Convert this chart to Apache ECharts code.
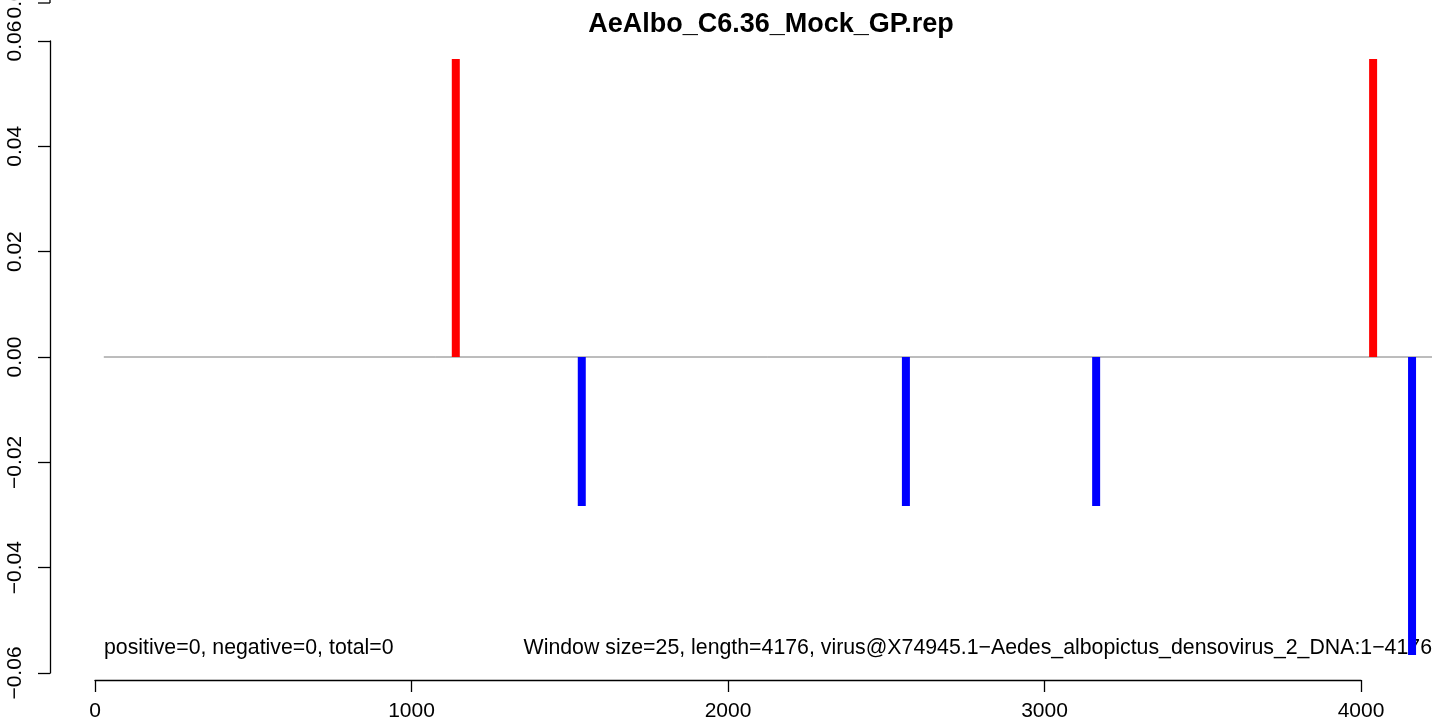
<!DOCTYPE html>
<html>
<head>
<meta charset="utf-8">
<script src="https://cdn.jsdelivr.net/npm/echarts@6/dist/echarts.min.js"></script>
<style>
html,body{margin:0;padding:0;background:#fff;}
#c{width:1441px;height:725px;}
</style>
</head>
<body>
<div id="c"></div>
<script>
// ---- data ----
const titleText = "AeAlbo_C6.36_Mock_GP.rep";
const positions = [1140, 1538, 2562, 3163, 4038, 4161];
const values = [0.0566, -0.0283, -0.0283, -0.0283, 0.0566, -0.0566];
const baselineX = [28, 4224];
const leftNote = "positive=0, negative=0, total=0";
const rightNote = "Window size=25, length=4176, virus@X74945.1\u2212Aedes_albopictus_densovirus_2_DNA:1\u22124176";
const xTickRange = [0, 4000];
const yTickRange = [-0.06, 0.06];

const FONT = "'Liberation Sans', Arial, Helvetica, sans-serif";
const chart = echarts.init(document.getElementById('c'));

const barData = positions.map((p, i) => [p, values[i]]);
const baseData = baselineX.map(x => [x, 0]);

chart.setOption({
  backgroundColor: '#fff',
  animation: false,
  title: {
    text: titleText,
    left: 766, top: 6, textAlign: 'center',
    textStyle: {fontFamily: FONT, fontWeight: 'bold', fontSize: 27, color: '#000'}
  },
  grid: [
    {left: 50, top: 41, width: 1432, height: 632, outerBoundsMode: 'none', containLabel: false},
    {left: 95, top: 41, width: 1266, height: 639, outerBoundsMode: 'none', containLabel: false}
  ],
  xAxis: [
    {gridIndex: 0, type: 'value', min: -142, max: 4382, show: false},
    {gridIndex: 1, type: 'value', min: xTickRange[0], max: xTickRange[1], interval: 1000,
     axisLine: {show: true, onZero: false, lineStyle: {color: '#000', width: 1.3}},
     axisTick: {show: true, length: 12, lineStyle: {color: '#000', width: 1.3}},
     axisLabel: {margin: 21, fontFamily: FONT, fontSize: 21, color: '#000',
       formatter: v => String(v)},
     splitLine: {show: false}}
  ],
  yAxis: [
    {gridIndex: 0, type: 'value', min: yTickRange[0], max: yTickRange[1], interval: 0.02,
     axisLine: {show: true, onZero: false, lineStyle: {color: '#000', width: 1.3}},
     axisTick: {show: true, length: 12, lineStyle: {color: '#000', width: 1.3}},
     axisLabel: {rotate: 90, margin: 24, fontFamily: FONT, fontSize: 21, color: '#000',
       formatter: v => v.toFixed(2).replace('-', '\u2212')},
     splitLine: {show: false}},
    {gridIndex: 1, type: 'value', min: -1, max: 1, show: false}
  ],
  series: [
    {type: 'line', xAxisIndex: 0, yAxisIndex: 0, data: baseData, symbol: 'none',
     lineStyle: {color: '#7a7a7a', width: 1}, silent: true, z: 1},
    {type: 'bar', xAxisIndex: 0, yAxisIndex: 0, data: barData, barWidth: 8,
     itemStyle: {color: p => p.value[1] >= 0 ? '#ff0000' : '#0000ff'}, z: 2}
  ],
  graphic: [
    {type: 'text', left: 104, top: 638,
     style: {text: leftNote, font: '21.3px ' + FONT, fill: '#000'}},
    {type: 'text', right: 9, top: 638,
     style: {text: rightNote, font: '21.3px ' + FONT, fill: '#000'}},
    {type: 'line', shape: {x1: 50, y1: 0, x2: 50, y2: 3}, style: {stroke: '#000', lineWidth: 1.3}},
    {type: 'line', shape: {x1: 38, y1: 3, x2: 50, y2: 3}, style: {stroke: '#000', lineWidth: 1.3}},
    {type: 'text', x: 15, y: -2, rotation: Math.PI / 2,
     style: {text: '0.08', font: '21px ' + FONT, fill: '#000', align: 'center', verticalAlign: 'middle'}}
  ]
});
</script>
</body>
</html>
